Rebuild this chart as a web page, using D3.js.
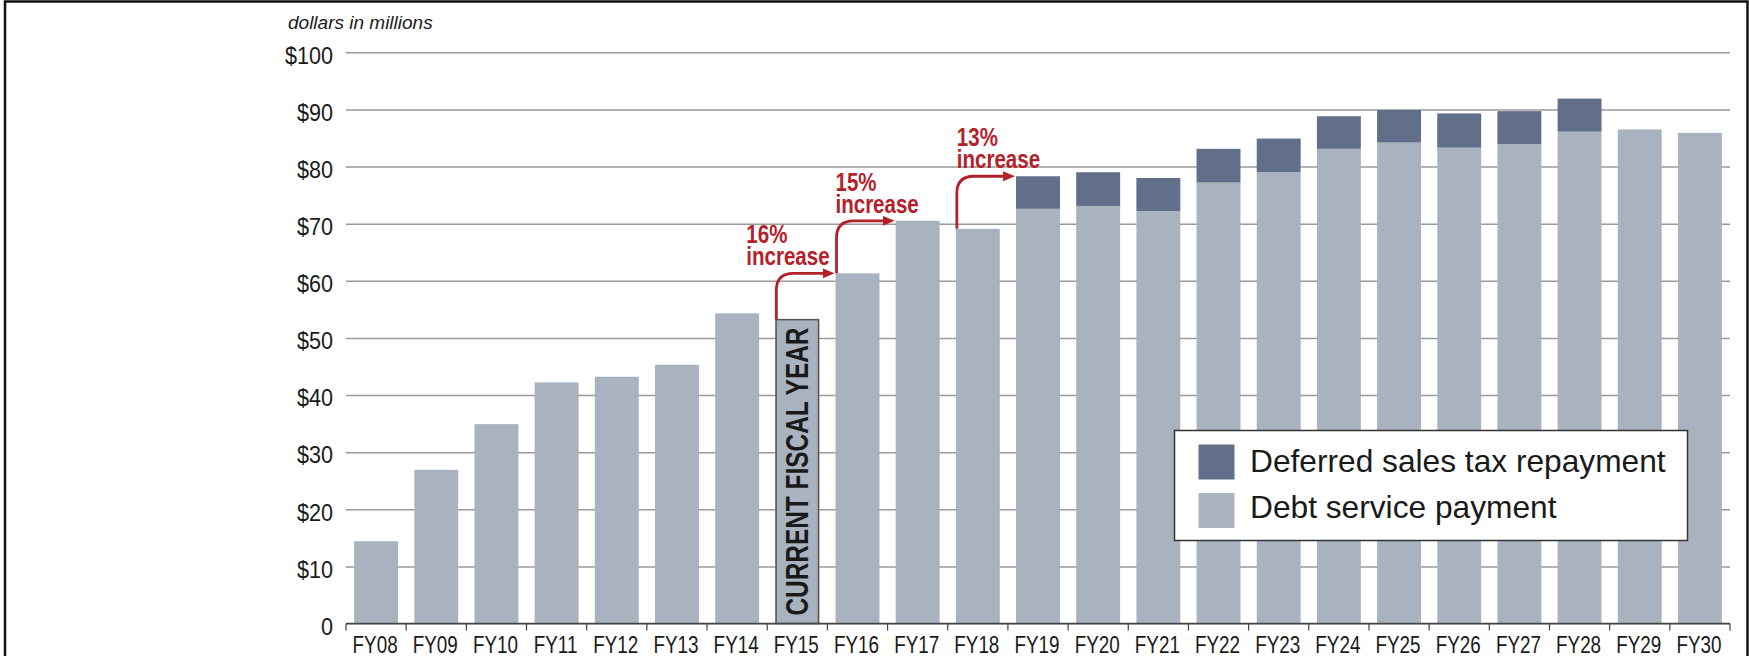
<!DOCTYPE html>
<html>
<head>
<meta charset="utf-8">
<script src="https://cdn.jsdelivr.net/npm/d3@7"></script>
<style>
  body { margin: 0; background: #fff; }
  text { fill: #1a1a1a; font-family: "Liberation Sans", Arial, Helvetica, sans-serif; }
</style>
</head>
<body>
<div id="chart"></div>
<script>
// fiscal years and the two stacked series (dollars in millions)
const years = ["FY08", "FY09", "FY10", "FY11", "FY12", "FY13", "FY14", "FY15", "FY16", "FY17", "FY18", "FY19",
               "FY20", "FY21", "FY22", "FY23", "FY24", "FY25", "FY26", "FY27", "FY28", "FY29", "FY30"];
const debtService = [14.4, 26.9, 34.9, 42.2, 43.2, 45.3, 54.3, 53.2, 61.3, 70.5, 69.1, 72.6,
                     73.1, 72.2, 77.2, 79.0, 83.1, 84.2, 83.3, 83.9, 86.1, 86.5, 85.9];
const deferredTax = [0, 0, 0, 0, 0, 0, 0, 0, 0, 0, 0, 5.7,
                     5.9, 5.8, 5.9, 5.9, 5.7, 5.7, 6.0, 5.8, 5.8, 0, 0];
const yTicks = [0, 10, 20, 30, 40, 50, 60, 70, 80, 90, 100];
const yTickLabels = ["0", "$10", "$20", "$30", "$40", "$50", "$60", "$70", "$80", "$90", "$100"];
const seriesNames = ["Deferred sales tax repayment", "Debt service payment"];
const currentYear = "FY15";
const currentLabel = "CURRENT FISCAL YEAR";
const unitLabel = "dollars in millions";
// growth call-outs
const jumpFrom = ["FY15", "FY16", "FY18"];
const jumpTo = ["FY16", "FY17", "FY19"];
const jumpPct = ["16%", "15%", "13%"];

const width = 1749;
const height = 656;
const lightColor = "#a9b3bf";
const darkColor = "#616f8a";
const red = "#b3222b";
const narrow = 0.82; // condensed type look

const rows = years.map((y, i) => ({ year: y, debt: debtService[i], deferred: deferredTax[i] }));
const stacked = d3.stack().keys(["debt", "deferred"])(rows);
const totalOf = y => { const i = years.indexOf(y); return debtService[i] + deferredTax[i]; };

let x = d3.scaleBand()
  .domain(years)
  .range([346, 1730])
  .paddingInner(0.27)
  .paddingOuter(0.135);

let y = d3.scaleLinear()
  .domain([0, 100])
  .range([623.5, 52.3]);

let svg = d3.select("#chart")
  .append("svg")
  .attr("width", width)
  .attr("height", height);

svg.append("rect").attr("width", width).attr("height", height).attr("fill", "#fff");

// frame
svg.append("path")
  .attr("d", `M5,${height} L5,1.5 L1747.5,1.5 L1747.5,${height}`)
  .attr("fill", "none")
  .attr("stroke", "#111")
  .attr("stroke-width", 2.5);

// unit label
svg.append("text")
  .attr("x", 288)
  .attr("y", 29)
  .style("font-size", "19px")
  .style("font-style", "italic")
  .text(unitLabel);

// gridlines + y labels
let yAxis = svg.append("g")
  .attr("transform", "translate(346,0)")
  .call(d3.axisLeft(y)
    .tickValues(yTicks)
    .tickSize(-(1730 - 346))
    .tickPadding(13)
    .tickFormat((d, i) => yTickLabels[i]));
yAxis.select(".domain").remove();
yAxis.selectAll(".tick line").attr("stroke", "#9a9a9a").attr("stroke-width", 1.5);
yAxis.selectAll(".tick text")
  .attr("x", -13 / 0.9)
  .attr("transform", "scale(0.9,1)")
  .attr("dy", "0.45em")
  .style("font-family", "'Liberation Sans', Arial, sans-serif")
  .style("font-size", "24px")
  .attr("fill", "#1a1a1a");

// bars
svg.append("g")
  .selectAll("g")
  .data(stacked)
  .enter()
  .append("g")
  .attr("fill", d => d.key === "debt" ? lightColor : darkColor)
  .selectAll("rect")
  .data(d => d.filter(s => s[1] - s[0] > 0))
  .enter()
  .append("rect")
  .attr("x", d => x(d.data.year))
  .attr("width", x.bandwidth())
  .attr("y", d => y(d[1]))
  .attr("height", d => y(d[0]) - y(d[1]));

// current year outline and label
let cy = debtService[years.indexOf(currentYear)];
svg.append("rect")
  .attr("x", x(currentYear) + 0.75)
  .attr("y", y(cy))
  .attr("width", x.bandwidth() - 1.5)
  .attr("height", y(0) - y(cy))
  .attr("fill", "none")
  .attr("stroke", "#555")
  .attr("stroke-width", 1.5);

svg.append("text")
  .attr("transform", `translate(${x(currentYear) + x.bandwidth() / 2},${(y(cy) + y(0)) / 2}) rotate(-90)`)
  .attr("text-anchor", "middle")
  .attr("dy", "0.36em")
  .attr("textLength", 288)
  .attr("lengthAdjust", "spacingAndGlyphs")
  .style("font-size", "31px")
  .style("font-weight", "bold")
  .text(currentLabel);

// x axis
let xAxis = svg.append("g")
  .attr("transform", `translate(0,${y(0)})`);
xAxis.append("line")
  .attr("x1", 346).attr("x2", 1730)
  .attr("stroke", "#444").attr("stroke-width", 1.5);
let bounds = years.map(d => x(d) - x.step() * x.paddingInner() / 2).concat([1730]);
xAxis.selectAll(".tk")
  .data(bounds)
  .enter()
  .append("line")
  .attr("x1", d => d).attr("x2", d => d)
  .attr("y1", 0).attr("y2", 7)
  .attr("stroke", "#444").attr("stroke-width", 1.2);
xAxis.selectAll(".lbl")
  .data(years)
  .enter()
  .append("text")
  .attr("transform", d => `translate(${x(d) + x.bandwidth() / 2 - 1},29.5) scale(${narrow},1)`)
  .attr("text-anchor", "middle")
  .style("font-size", "23px")
  .text(d => d);

// growth arrows
let defs = svg.append("defs");
defs.append("marker")
  .attr("id", "head")
  .attr("markerUnits", "userSpaceOnUse")
  .attr("markerWidth", 14)
  .attr("markerHeight", 12)
  .attr("refX", 6)
  .attr("refY", 5)
  .attr("orient", "auto")
  .append("path")
  .attr("d", "M0,0 L12,5 L0,10 Z")
  .attr("fill", red);

const labelShift = [-30, -1, 0];
jumpFrom.forEach((f, i) => {
  let x0 = x(f) + 1;
  let y0 = y(totalOf(f));
  let y1 = y(totalOf(jumpTo[i]));
  let x1 = x(jumpTo[i]) - 1;
  let r = 17;
  svg.append("path")
    .attr("d", `M${x0},${y0} L${x0},${y1 + r} Q${x0},${y1} ${x0 + r},${y1} L${x1 - 6},${y1}`)
    .attr("fill", "none")
    .attr("stroke", red)
    .attr("stroke-width", 2.8)
    .attr("marker-end", "url(#head)");
  let g = svg.append("g")
    .attr("transform", `translate(${x0 + labelShift[i]},${y1}) scale(${narrow},1)`);
  [jumpPct[i], "increase"].forEach((s, k) => {
    g.append("text")
      .attr("y", k === 0 ? -30 : -8)
      .style("fill", red)
      .style("font-size", "25px")
      .style("font-weight", "bold")
      .text(s);
  });
});

// legend
let legend = svg.append("g").attr("transform", "translate(1174.5,430.5)");
legend.append("rect")
  .attr("width", 513)
  .attr("height", 110)
  .attr("fill", "#fff")
  .attr("stroke", "#333")
  .attr("stroke-width", 1.5);
seriesNames.forEach((name, i) => {
  legend.append("rect")
    .attr("x", 24)
    .attr("y", 14 + i * 48.5)
    .attr("width", 36)
    .attr("height", 35)
    .attr("fill", i === 0 ? darkColor : lightColor);
  legend.append("text")
    .attr("x", 75.5)
    .attr("y", 41 + i * 46.8)
    .style("font-size", "31.7px")
    .text(name);
});
</script>
</body>
</html>
